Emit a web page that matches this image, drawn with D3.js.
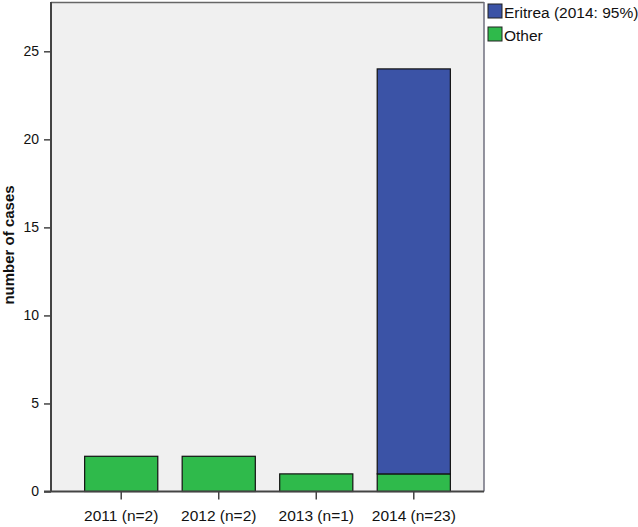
<!DOCTYPE html>
<html>
<head>
<meta charset="utf-8">
<script src="https://cdn.jsdelivr.net/npm/d3@7"></script>
<style>
  html, body { margin: 0; padding: 0; background: #fff; }
  svg { display: block; }
  text { font-family: Arial, "Liberation Sans", sans-serif; }
</style>
</head>
<body>
<svg id="chart" width="638" height="527"></svg>
<script>
const categories = ["2011 (n=2)", "2012 (n=2)", "2013 (n=1)", "2014 (n=23)"];
const otherValues = [2, 2, 1, 1];
const eritreaValues = [0, 0, 0, 23];
const seriesNames = ["Eritrea (2014: 95%)", "Other"];
const yTicks = [0, 5, 10, 15, 20, 25];
const yLabel = "number of cases";

const colors = { "Eritrea (2014: 95%)": "#3b53a6", "Other": "#2fba4b" };

const svg = d3.select("#chart");
const pLeft = 51, pRight = 484, pTop = 2, pBottom = 491.5;

const x = d3.scaleBand().domain(categories).range([pLeft, pRight])
  .paddingInner(0.25).paddingOuter(0.345);
const y = d3.scaleLinear().domain([0, 27.8]).range([pBottom, pTop]);

// plot background
svg.append("rect").attr("x", pLeft).attr("y", pTop)
  .attr("width", pRight - pLeft).attr("height", pBottom - pTop)
  .attr("fill", "#f0f0f0").attr("stroke", "none");
// frame top/right
svg.append("line").attr("x1", pLeft).attr("x2", pRight).attr("y1", pTop + 0.5).attr("y2", pTop + 0.5)
  .attr("stroke", "#666").attr("stroke-width", 1.5);
svg.append("line").attr("x1", pRight).attr("x2", pRight).attr("y1", pTop).attr("y2", pBottom)
  .attr("stroke", "#70707f").attr("stroke-width", 1.5);

const data = categories.map((c, i) => ({ cat: c, Other: otherValues[i], "Eritrea (2014: 95%)": eritreaValues[i] }));
const stack = d3.stack().keys(["Other", "Eritrea (2014: 95%)"]);
const stacked = stack(data);

stacked.forEach(layer => {
  svg.append("g").selectAll("rect").data(layer.filter(d => d[1] - d[0] > 0)).join("rect")
    .attr("x", d => x(d.data.cat))
    .attr("width", x.bandwidth())
    .attr("y", d => y(d[1]))
    .attr("height", d => y(d[0]) - y(d[1]))
    .attr("fill", colors[layer.key])
    .attr("stroke", "#111")
    .attr("stroke-width", 1.2);
});

// y axis
const yAxis = d3.axisLeft(y).tickValues(yTicks).tickSize(7).tickPadding(5);
const gy = svg.append("g").attr("transform", `translate(${pLeft},0)`).call(yAxis);
gy.select(".domain").attr("stroke", "#444").attr("stroke-width", 2).attr("d", `M0,${pTop}V${pBottom}`);
gy.selectAll(".tick line").attr("stroke", "#444").attr("stroke-width", 1.5);
gy.selectAll(".tick text").attr("font-size", 14).attr("fill", "#111");

// x axis
const xAxis = d3.axisBottom(x).tickSize(8).tickPadding(10);
const gx = svg.append("g").attr("transform", `translate(0,${pBottom})`).call(xAxis);
gx.select(".domain").attr("stroke", "#444").attr("stroke-width", 2).attr("d", `M${pLeft - 7},0H${pRight}`);
gx.selectAll(".tick line").attr("stroke", "#444").attr("stroke-width", 1.5);
gx.selectAll(".tick text").attr("font-size", 15.5).attr("fill", "#111");

// y label
svg.append("text").attr("transform", `translate(14,245) rotate(-90)`)
  .attr("text-anchor", "middle").attr("font-size", 15).attr("font-weight", "bold")
  .attr("fill", "#111").text(yLabel);

// legend
const lg = svg.append("g").attr("transform", "translate(488,4)");
seriesNames.forEach((name, i) => {
  const g = lg.append("g").attr("transform", `translate(0,${i * 23})`);
  g.append("rect").attr("x", 0).attr("y", 0).attr("width", 14).attr("height", 14)
    .attr("fill", colors[name]).attr("stroke", "#222").attr("stroke-width", 1);
  g.append("text").attr("x", 16).attr("y", 14).attr("font-size", 15.5).attr("fill", "#111").text(name);
});
</script>
</body>
</html>
